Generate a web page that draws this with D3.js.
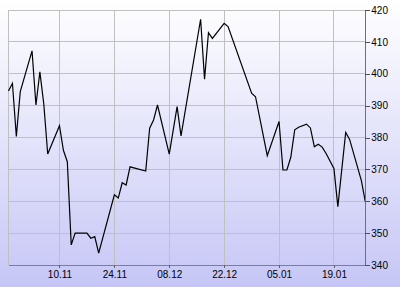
<!DOCTYPE html>
<html>
<head>
<meta charset="utf-8">
<script src="https://cdn.jsdelivr.net/npm/d3@7"></script>
<style>
  body { margin: 0; }
  svg { display: block; }
  .tick text { font-family: "Liberation Sans", Arial, sans-serif; font-size: 10px; fill: #000; }
</style>
</head>
<body>
<svg width="400" height="287"></svg>
<script>
// daily closes
var dates = ["2008-10-28","2008-10-29","2008-10-30","2008-10-31","2008-11-03","2008-11-04","2008-11-05",
  "2008-11-06","2008-11-07","2008-11-10","2008-11-11","2008-11-12","2008-11-13","2008-11-14","2008-11-17",
  "2008-11-18","2008-11-19","2008-11-20","2008-11-24","2008-11-25","2008-11-26","2008-11-27","2008-11-28",
  "2008-12-02","2008-12-03","2008-12-04","2008-12-05","2008-12-08","2008-12-10","2008-12-11","2008-12-16",
  "2008-12-17","2008-12-18","2008-12-19","2008-12-22","2008-12-23","2008-12-29","2008-12-30","2009-01-02",
  "2009-01-05","2009-01-06","2009-01-07","2009-01-08","2009-01-09","2009-01-10","2009-01-12","2009-01-13",
  "2009-01-14","2009-01-15","2009-01-16","2009-01-17","2009-01-19","2009-01-20","2009-01-22","2009-01-23",
  "2009-01-26","2009-01-27"];
var values = [394.6, 397, 380.3, 394.4, 407.2, 390.2, 400.6,
  390.5, 374.8, 383.7, 376, 372.4, 346.3, 350, 350,
  348.4, 348.9, 343.7, 362, 361, 365.8, 365.1, 370.8,
  369.5, 382.9, 385.5, 390.2, 374.8, 389.7, 380.5, 417.1,
  398.3, 412.9, 411.1, 415.8, 414.8, 393.9, 392.8, 374.3,
  385, 369.8, 369.8, 373.8, 382.4, 383.2, 384.2, 383,
  377.1, 377.9, 377, 375, 370.3, 358.3, 381.6, 379.4,
  366.5, 359.9];
var xTicks = ["2008-11-10","2008-11-24","2008-12-08","2008-12-22","2009-01-05","2009-01-19"];
var yTicks = [340, 350, 360, 370, 380, 390, 400, 410, 420];
var xStart = "2008-10-28", xEnd = "2009-01-27";

var parse = d3.utcParse("%Y-%m-%d");
var data = dates.map(function(d, i) { return {date: parse(d), value: values[i]}; });

var svg = d3.select("svg");
var plotLeft = 8.5, plotRight = 365.3, plotTop = 10, plotBottom = 265;

var defs = svg.append("defs");
var grad = defs.append("linearGradient").attr("id", "bg")
    .attr("x1", 0).attr("y1", 0).attr("x2", 0).attr("y2", 1);
grad.append("stop").attr("offset", "0%").attr("stop-color", "#ffffff");
grad.append("stop").attr("offset", "100%").attr("stop-color", "#c6c6f6");
svg.append("rect").attr("width", 400).attr("height", 287).attr("fill", "url(#bg)");

var x = d3.scaleUtc().domain([parse(xStart), parse(xEnd)]).range([plotLeft, plotRight]);
var y = d3.scaleLinear().domain([340, 420]).range([plotBottom, plotTop]);

// grid
var grid = svg.append("g").attr("stroke", "#c0c0c0").attr("stroke-width", 1).attr("shape-rendering", "crispEdges");
grid.selectAll(".h").data(yTicks).enter().append("line")
    .attr("x1", plotLeft).attr("x2", plotRight)
    .attr("y1", function(d) { return y(d); }).attr("y2", function(d) { return y(d); });
grid.selectAll(".v").data(xTicks.map(parse).concat([parse(xStart)])).enter().append("line")
    .attr("y1", plotTop).attr("y2", plotBottom)
    .attr("x1", function(d) { return x(d); }).attr("x2", function(d) { return x(d); });

var line = d3.line()
    .x(function(d) { return x(d.date); })
    .y(function(d) { return y(d.value); });

svg.append("path").datum(data)
    .attr("fill", "none")
    .attr("stroke", "#000")
    .attr("stroke-width", 1.2)
    .attr("d", line);

var xAxis = svg.append("g")
    .attr("transform", "translate(0," + plotBottom + ")")
    .call(d3.axisBottom(x).tickValues(xTicks.map(parse)).tickFormat(d3.utcFormat("%d.%m"))
      .tickSize(3).tickPadding(3).tickSizeOuter(0));
xAxis.select(".domain").attr("stroke", "#808080").attr("shape-rendering", "crispEdges");
xAxis.selectAll(".tick line").attr("stroke", "#606060").attr("shape-rendering", "crispEdges");

var yAxis = svg.append("g")
    .attr("transform", "translate(" + plotRight + ",0)")
    .call(d3.axisRight(y).tickValues(yTicks).tickSize(5).tickPadding(1).tickSizeOuter(0));
yAxis.select(".domain").attr("stroke", "#707070").attr("shape-rendering", "crispEdges");
yAxis.selectAll(".tick line").attr("stroke", "#505050").attr("shape-rendering", "crispEdges");
</script>
</body>
</html>
